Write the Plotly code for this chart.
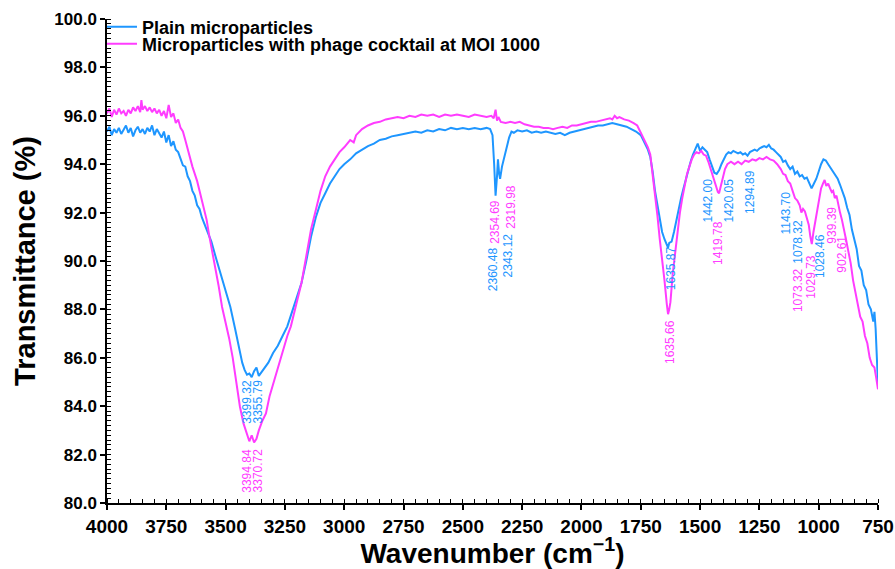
import plotly.graph_objects as go

# ---------------- data ----------------
plain_wn = [4000, 3990, 3980, 3970, 3960, 3950, 3940, 3930, 3920, 3910, 3900, 3890, 3880, 3870, 3860,
            3850, 3840, 3830, 3820, 3810, 3800, 3790, 3780, 3770, 3760, 3750, 3740, 3730, 3720, 3710,
            3700, 3690, 3680, 3670, 3660, 3650, 3640, 3630, 3620, 3610, 3600, 3580, 3560, 3540, 3520,
            3500, 3480, 3460, 3440, 3430, 3420, 3410, 3400, 3390, 3380, 3370, 3360, 3350, 3340, 3320,
            3300, 3280, 3260, 3240, 3220, 3200, 3180, 3160, 3140, 3120, 3100, 3080, 3060, 3040, 3020,
            3000, 2975, 2950, 2925, 2900, 2875, 2850, 2825, 2800, 2775, 2750, 2725, 2700, 2675, 2650,
            2625, 2600, 2575, 2550, 2525, 2500, 2475, 2450, 2425, 2400, 2385, 2375, 2368, 2362, 2356,
            2352, 2347, 2343, 2335, 2325, 2315, 2305, 2295, 2285, 2270, 2250, 2230, 2210, 2190, 2170,
            2150, 2130, 2110, 2090, 2070, 2050, 2030, 2010, 1990, 1970, 1950, 1930, 1910, 1890, 1870,
            1850, 1830, 1810, 1790, 1770, 1750, 1735, 1720, 1710, 1700, 1690, 1680, 1670, 1660, 1650,
            1640, 1635, 1630, 1620, 1610, 1600, 1590, 1580, 1570, 1560, 1550, 1540, 1530, 1520, 1510,
            1500, 1490, 1480, 1470, 1460, 1450, 1440, 1430, 1420, 1410, 1400, 1390, 1380, 1370, 1360,
            1350, 1340, 1330, 1320, 1310, 1300, 1290, 1280, 1270, 1260, 1250, 1240, 1230, 1220, 1210,
            1200, 1190, 1180, 1170, 1160, 1150, 1140, 1130, 1120, 1110, 1100, 1090, 1080, 1070, 1060,
            1050, 1040, 1030, 1020, 1010, 1000, 990, 980, 970, 960, 950, 940, 930, 920, 910,
            900, 890, 880, 870, 860, 850, 840, 830, 820, 810, 800, 790, 780, 770, 765,
            760, 755, 750]
plain_t = [95.35, 95.55, 95.2, 95.45, 95.3, 95.5, 95.25, 95.45, 95.6, 95.3, 95.5, 95.15, 95.4, 95.55, 95.3,
           95.45, 95.25, 95.5, 95.35, 95.6, 95.2, 95.45, 95.3, 95.1, 95.35, 94.9, 95.2, 94.75, 94.95, 94.6,
           94.5, 94.2, 93.95, 93.9, 93.5, 93.3, 92.9, 92.7, 92.3, 92.15, 91.8, 91.3, 90.8, 90.1, 89.4,
           88.7, 88.1, 87.2, 86.3, 85.8, 85.5, 85.3, 85.35, 85.2, 85.45, 85.6, 85.25, 85.4, 85.55, 85.8,
           86.2, 86.5, 86.9, 87.3, 87.9, 88.5, 89.1, 90.0, 91.0, 91.8, 92.4, 92.8, 93.2, 93.5, 93.8,
           94.0, 94.2, 94.45, 94.6, 94.75, 94.85, 95.0, 95.05, 95.15, 95.2, 95.25, 95.3, 95.35, 95.3, 95.4,
           95.35, 95.45, 95.4, 95.5, 95.45, 95.5, 95.45, 95.5, 95.45, 95.5, 95.45, 95.2, 94.0, 92.7, 93.5,
           94.2, 93.6, 93.4, 93.9, 94.3, 94.8, 95.1, 95.35, 95.3, 95.4, 95.35, 95.4, 95.3, 95.35, 95.3,
           95.35, 95.3, 95.25, 95.3, 95.2, 95.3, 95.35, 95.4, 95.45, 95.5, 95.55, 95.6, 95.6, 95.65, 95.7,
           95.65, 95.6, 95.55, 95.45, 95.35, 95.2, 94.9, 94.6, 94.3, 93.7, 92.9, 92.3, 91.7, 91.2, 90.9,
           90.7, 90.55, 90.75, 90.8, 91.2, 91.7, 92.1, 92.6, 93.0, 93.4, 93.8, 94.1, 94.4, 94.6, 94.85,
           94.55, 94.7, 94.6, 94.5, 94.2, 93.9, 93.65, 93.6, 93.75, 94.0, 94.2, 94.4, 94.5, 94.45, 94.55,
           94.5, 94.45, 94.5, 94.4, 94.45, 94.35, 94.5, 94.55, 94.6, 94.55, 94.65, 94.7, 94.75, 94.7, 94.8,
           94.65, 94.6, 94.5, 94.4, 94.3, 94.1, 94.15, 93.95, 93.8, 93.9, 93.6, 93.7, 93.5, 93.55, 93.4,
           93.45, 93.2, 93.0, 93.2, 93.4, 93.7, 94.0, 94.2, 94.15, 94.0, 93.85, 93.75, 93.6, 93.4, 93.15,
           92.85, 92.6, 92.2, 91.9, 91.3, 90.9, 90.5, 89.8, 89.6, 89.0, 88.8, 88.2, 88.0, 87.5, 87.9,
           87.2, 86.0, 84.9]

phage_wn = [4000, 3990, 3980, 3970, 3960, 3950, 3940, 3930, 3920, 3910, 3900, 3890, 3880, 3870, 3860,
            3855, 3850, 3840, 3830, 3820, 3810, 3800, 3790, 3780, 3770, 3760, 3750, 3740, 3730, 3720,
            3710, 3700, 3690, 3680, 3670, 3660, 3650, 3640, 3630, 3620, 3610, 3600, 3590, 3580, 3570,
            3560, 3545, 3530, 3515, 3500, 3485, 3470, 3455, 3440, 3425, 3410, 3400, 3390, 3380, 3370,
            3360, 3345, 3330, 3315, 3300, 3285, 3270, 3255, 3240, 3225, 3210, 3195, 3180, 3160, 3140,
            3120, 3100, 3080, 3060, 3040, 3020, 3000, 2975, 2960, 2950, 2925, 2900, 2875, 2850, 2825,
            2800, 2775, 2750, 2725, 2700, 2675, 2650, 2625, 2600, 2575, 2550, 2525, 2500, 2475, 2450,
            2425, 2400, 2380, 2370, 2362, 2356, 2350, 2340, 2320, 2300, 2280, 2260, 2240, 2220, 2200,
            2180, 2160, 2140, 2120, 2100, 2080, 2060, 2040, 2020, 2000, 1980, 1960, 1940, 1920, 1900,
            1880, 1870, 1860, 1850, 1840, 1820, 1800, 1780, 1765, 1750, 1735, 1720, 1710, 1700, 1690,
            1680, 1670, 1660, 1650, 1640, 1635, 1630, 1625, 1615, 1605, 1595, 1585, 1575, 1565, 1555,
            1545, 1535, 1525, 1515, 1505, 1495, 1485, 1475, 1465, 1455, 1445, 1435, 1425, 1420, 1415,
            1405, 1395, 1385, 1370, 1355, 1340, 1325, 1310, 1295, 1280, 1265, 1250, 1235, 1220, 1205,
            1190, 1175, 1160, 1150, 1140, 1130, 1120, 1110, 1100, 1090, 1080, 1073, 1066, 1058, 1050,
            1042, 1035, 1029, 1022, 1014, 1006, 998, 990, 982, 975, 968, 960, 952, 945, 939,
            932, 925, 918, 910, 902, 895, 885, 875, 865, 855, 845, 835, 825, 815, 805,
            795, 785, 775, 765, 758, 750]
phage_t = [96.1, 96.3, 95.95, 96.25, 96.05, 96.3, 96.1, 96.2, 96.0, 96.25, 96.1, 96.35, 96.2, 96.4, 96.15,
           96.65, 96.25, 96.4, 96.2, 96.35, 96.15, 96.3, 96.1, 96.25, 96.0, 96.2, 95.9, 96.45, 95.95, 96.1,
           95.7, 95.85, 95.5, 95.35, 95.0, 94.6, 94.3, 93.9, 93.6, 93.3, 92.9, 92.5, 92.2, 91.7, 91.1,
           90.6, 89.7, 89.0, 88.1, 87.5, 86.8, 86.0, 85.0, 84.0, 83.3, 82.8, 82.55, 82.8, 82.5, 82.65,
           83.0, 83.4, 83.7, 84.4, 84.9, 85.5, 85.9, 86.5, 86.9, 87.3, 87.9, 88.5, 89.1, 90.2, 91.3,
           92.1, 92.9, 93.5, 93.9, 94.2, 94.5, 94.7, 95.0, 94.9, 95.2, 95.45, 95.6, 95.7, 95.75, 95.85,
           95.9, 95.95, 95.9, 96.0, 95.95, 96.05, 96.0, 96.05, 95.95, 96.05, 96.0, 96.05, 96.0, 95.95, 96.05,
           96.0, 95.95, 96.0, 95.9, 96.25, 95.8, 95.95, 95.75, 95.7, 95.75, 95.7, 95.75, 95.65, 95.6, 95.55,
           95.55, 95.5, 95.5, 95.45, 95.5, 95.55, 95.5, 95.6, 95.6, 95.65, 95.7, 95.75, 95.75, 95.8, 95.85,
           95.9, 95.85, 96.0, 95.9, 95.95, 95.85, 95.8, 95.7, 95.6, 95.3, 95.0, 94.7, 94.4, 93.6, 92.8,
           91.9, 90.9, 90.1, 89.2, 88.2, 87.8, 88.0, 88.3, 89.5, 90.4, 91.2, 92.0, 92.6, 93.1, 93.6,
           93.9, 94.2, 94.4, 94.5, 94.45, 94.55, 94.4, 94.35, 94.1, 93.8, 93.5, 93.1, 92.85, 92.8, 93.0,
           93.4, 93.8, 94.0, 94.1, 94.0, 94.1, 94.0, 94.15, 94.1, 94.2, 94.15, 94.25, 94.2, 94.3, 94.2,
           94.15, 94.0, 93.8, 93.6, 93.55, 93.3, 93.2, 92.9, 92.6, 92.5, 92.3, 92.0, 92.15, 92.05, 91.8,
           91.5, 91.0, 90.7, 91.2, 91.7, 92.2, 92.7, 93.0, 93.2, 93.35, 93.1, 93.2, 93.0, 92.85, 92.9,
           92.6, 92.7, 92.3, 92.0, 91.7, 91.4, 90.9, 90.4, 89.9, 89.2, 88.7, 88.1, 87.7, 87.5, 86.9,
           86.6, 86.0, 85.7, 85.6, 85.2, 84.7]

series_names = ["Plain microparticles", "Microparticles with phage cocktail at MOI 1000"]

# peak labels: (text, wavenumber position, transmittance position)
plain_labels = ["3399.32", "3355.79", "2360.48", "2343.12", "1635.87", "1442.00", "1420.05",
                "1294.89", "1143.70", "1078.32", "1028.46"]
plain_label_x = [3408, 3363, 2370, 2312, 1623, 1467, 1382, 1290, 1138, 1087, 995]
plain_label_y = [84.2, 84.2, 89.65, 90.25, 89.7, 92.5, 92.5, 92.85, 92.0, 90.8, 90.2]

phage_labels = ["3394.84", "3370.72", "2354.69", "2319.98", "1635.66", "1419.78", "1073.32",
                "1029.73", "939.39", "902.61"]
phage_label_x = [3408, 3363, 2362, 2300, 1627, 1424, 1087, 1032, 944, 902]
phage_label_y = [81.35, 81.35, 91.6, 92.25, 86.65, 90.75, 88.8, 89.35, 91.5, 90.3]

y_ticks = [80, 82, 84, 86, 88, 90, 92, 94, 96, 98, 100]
x_ticks = [4000, 3750, 3500, 3250, 3000, 2750, 2500, 2250, 2000, 1750, 1500, 1250, 1000, 750]

# ---------------- styles ----------------
BLUE = "#1E96FF"
PINK = "#FF3CFF"
FONT = "Liberation Sans, Arial, sans-serif"
LEG_FONT = dict(family=FONT, size=18, color="black", weight="bold")

fig = go.Figure()
fig.add_trace(go.Scatter(x=plain_wn, y=plain_t, mode="lines", name=series_names[0],
                         line=dict(color=BLUE, width=2), legend="legend"))
fig.add_trace(go.Scatter(x=phage_wn, y=phage_t, mode="lines", name=series_names[1],
                         line=dict(color=PINK, width=2), legend="legend2"))

annotations = []
for txt, x, y in zip(plain_labels, plain_label_x, plain_label_y):
    annotations.append(dict(x=x, y=y, xref="x", yref="y", text=txt, textangle=-90,
                            showarrow=False, xanchor="center", yanchor="middle",
                            font=dict(family=FONT, size=12, color=BLUE)))
for txt, x, y in zip(phage_labels, phage_label_x, phage_label_y):
    annotations.append(dict(x=x, y=y, xref="x", yref="y", text=txt, textangle=-90,
                            showarrow=False, xanchor="center", yanchor="middle",
                            font=dict(family=FONT, size=12, color=PINK)))

fig.update_layout(
    width=895, height=569,
    margin=dict(l=107, r=17, t=19, b=66, autoexpand=False),
    paper_bgcolor="white", plot_bgcolor="white",
    font=dict(family=FONT, color="black"),
    showlegend=True,
    legend=dict(x=-0.0065, y=0.9525, yref="container", xanchor="left", yanchor="middle",
                bgcolor="rgba(0,0,0,0)", font=LEG_FONT, itemwidth=30, tracegroupgap=0),
    legend2=dict(x=-0.0065, y=0.9227, yref="container", xanchor="left", yanchor="middle",
                 bgcolor="rgba(0,0,0,0)", font=LEG_FONT, itemwidth=30, tracegroupgap=0),
    annotations=annotations,
    xaxis=dict(range=[4000, 750], tickvals=x_ticks, ticktext=[str(v) for v in x_ticks],
               automargin=False,
               showgrid=False, zeroline=False, showline=True, linecolor="black", linewidth=1.5,
               ticks="outside", ticklen=5, tickwidth=1.5, tickcolor="black",
               minor=dict(dtick=50, ticks="inside", ticklen=4, tickwidth=1, tickcolor="black"),
               tickfont=dict(family=FONT, size=19, color="black", weight="bold"),
               title=dict(text="Wavenumber (cm<sup>\u22121</sup>)", standoff=8,
                          font=dict(family=FONT, size=28, color="black", weight="bold"))),
    yaxis=dict(range=[80, 100], tickvals=y_ticks, ticktext=[f"{v:.1f}" for v in y_ticks],
               automargin=False,
               showgrid=False, zeroline=False, showline=True, linecolor="black", linewidth=1.5,
               ticks="outside", ticklen=5, tickwidth=1.5, tickcolor="black",
               minor=dict(dtick=0.2, ticks="inside", ticklen=4, tickwidth=1, tickcolor="black"),
               tickfont=dict(family=FONT, size=17, color="black", weight="bold"),
               title=dict(text="Transmittance (%)", standoff=10,
                          font=dict(family=FONT, size=29, color="black", weight="bold"))),
)

fig.write_html("out.html")
